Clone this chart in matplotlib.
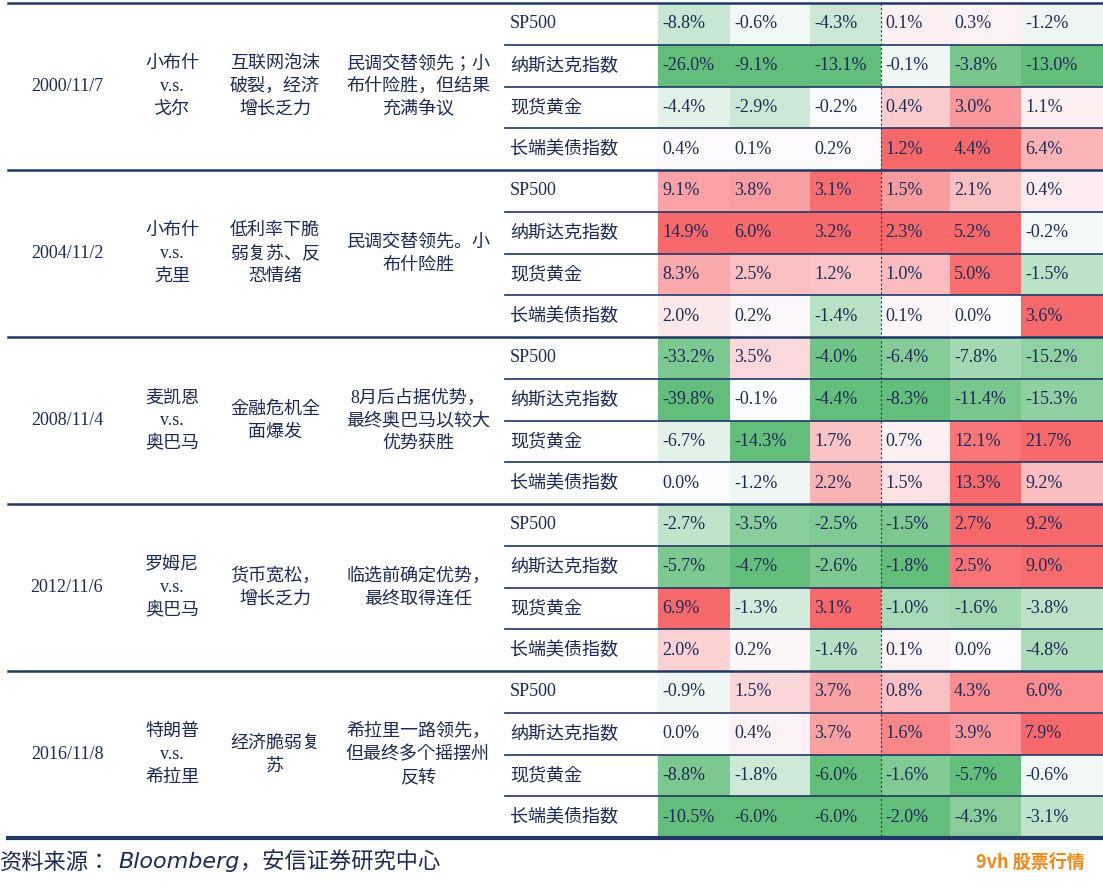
import numpy as np
import matplotlib.pyplot as plt
from matplotlib import font_manager
from matplotlib.colors import to_rgb

cjk_name = 'Noto Sans CJK SC'
names = {f.name for f in font_manager.fontManager.ttflist}
if cjk_name not in names:
    cands = sorted(n for n in names if 'CJK' in n)
    cjk_name = cands[0] if cands else 'DejaVu Sans'
plt.rcParams['font.family'] = ['Liberation Serif', cjk_name]

dates = ['2000/11/7', '2004/11/2', '2008/11/4', '2012/11/6', '2016/11/8']
candidates = [('小布什', '戈尔'), ('小布什', '克里'), ('麦凯恩', '奥巴马'),
              ('罗姆尼', '奥巴马'), ('特朗普', '希拉里')]
backgrounds = ['互联网泡沫\n破裂，经济\n增长乏力', '低利率下脆\n弱复苏、反\n恐情绪',
               '金融危机全\n面爆发', '货币宽松，\n增长乏力', '经济脆弱复\n苏']
polls = ['民调交替领先；小\n布什险胜，但结果\n充满争议', '民调交替领先。小\n布什险胜',
         '8月后占据优势，\n最终奥巴马以较大\n优势获胜', '临选前确定优势，\n最终取得连任',
         '希拉里一路领先，\n但最终多个摇摆州\n反转']
assets = ['SP500', '纳斯达克指数', '现货黄金', '长端美债指数']

v2000 = [[-8.8, -0.6, -4.3, 0.1, 0.3, -1.2],
         [-26.0, -9.1, -13.1, -0.1, -3.8, -13.0],
         [-4.4, -2.9, -0.2, 0.4, 3.0, 1.1],
         [0.4, 0.1, 0.2, 1.2, 4.4, 6.4]]
v2004 = [[9.1, 3.8, 3.1, 1.5, 2.1, 0.4],
         [14.9, 6.0, 3.2, 2.3, 5.2, -0.2],
         [8.3, 2.5, 1.2, 1.0, 5.0, -1.5],
         [2.0, 0.2, -1.4, 0.1, 0.0, 3.6]]
v2008 = [[-33.2, 3.5, -4.0, -6.4, -7.8, -15.2],
         [-39.8, -0.1, -4.4, -8.3, -11.4, -15.3],
         [-6.7, -14.3, 1.7, 0.7, 12.1, 21.7],
         [0.0, -1.2, 2.2, 1.5, 13.3, 9.2]]
v2012 = [[-2.7, -3.5, -2.5, -1.5, 2.7, 9.2],
         [-5.7, -4.7, -2.6, -1.8, 2.5, 9.0],
         [6.9, -1.3, 3.1, -1.0, -1.6, -3.8],
         [2.0, 0.2, -1.4, 0.1, 0.0, -4.8]]
v2016 = [[-0.9, 1.5, 3.7, 0.8, 4.3, 6.0],
         [0.0, 0.4, 3.7, 1.6, 3.9, 7.9],
         [-8.8, -1.8, -6.0, -1.6, -5.7, -0.6],
         [-10.5, -6.0, -6.0, -2.0, -4.3, -3.1]]
values = [v2000, v2004, v2008, v2012, v2016]

NAVY = '#1f3864'
TXT = '#1c2a55'
RED = np.array(to_rgb('#f8696b'))
GREEN = np.array(to_rgb('#63be7b'))
WHITE = np.array(to_rgb('#fcfcff'))


def cell_color(v, vmax):
    # symmetric scale on the largest magnitude of the column block
    t = min(1.0, abs(v) / vmax) if vmax > 0 else 0
    end = RED if v > 0 else GREEN
    return WHITE + (end - WHITE) * t


fig = plt.figure(figsize=(11.03, 8.83), dpi=100)
ax = fig.add_axes([0, 0, 1, 1])
ax.set_xlim(0, 1103)
ax.set_ylim(883, 0)
ax.axis('off')

col_edges = [658, 730, 810, 881, 950, 1021, 1103]
top, gh = 3, 167
rh = gh / 4

for g, vals in enumerate(values):
    arr = np.array(vals)
    y0 = top + g * gh
    ymid = y0 + gh / 2
    ax.text(67, ymid, dates[g], ha='center', va='center', fontsize=13, color=TXT)
    ax.text(172, ymid, f'{candidates[g][0]}\nv.s.\n{candidates[g][1]}', ha='center',
            va='center', fontsize=13, color=TXT, linespacing=1.45)
    ax.text(275, ymid, backgrounds[g], ha='center', va='center', fontsize=13,
            color=TXT, linespacing=1.45)
    ax.text(418, ymid, polls[g], ha='center', va='center', fontsize=13,
            color=TXT, linespacing=1.45)
    for r in range(4):
        yr = y0 + r * rh
        ax.text(510, yr + rh / 2, assets[r], ha='left', va='center', fontsize=13, color=TXT)
        for c in range(6):
            v = arr[r, c]
            fc = cell_color(v, np.abs(arr[:, c]).max())
            ax.add_patch(plt.Rectangle((col_edges[c], yr), col_edges[c + 1] - col_edges[c],
                                       rh, facecolor=fc, edgecolor='none'))
            ax.text(col_edges[c] + 4, yr + rh / 2, f'{v:.1f}%', ha='left', va='center',
                    fontsize=13, color=TXT)
        if r > 0:
            ax.plot([505, 1103], [yr, yr], color=NAVY, lw=1.2)
    ax.plot([8, 1103], [y0, y0], color=NAVY, lw=1.8)
ax.plot([8, 1103], [top + 5 * gh, top + 5 * gh], color=NAVY, lw=3)
ax.plot([881, 881], [top, top + 5 * gh], color=NAVY, lw=0.8, ls=(0, (2, 2)))

ax.text(0, 862, '资料来源：', ha='left', va='center', fontsize=16, color=TXT,
        family=cjk_name, style='italic')
ax.text(118, 862, 'Bloomberg', ha='left', va='center', fontsize=16,
        color=TXT, family='DejaVu Sans', style='italic')
ax.text(240, 862, '，安信证券研究中心', ha='left', va='center', fontsize=16,
        color=TXT, family=cjk_name, style='italic')
ax.text(1030, 862, '9vh 股票行情', ha='center', va='center', fontsize=13,
        color='#f08a1c', family=cjk_name, weight='bold')

fig.savefig('out.png', dpi=100)
